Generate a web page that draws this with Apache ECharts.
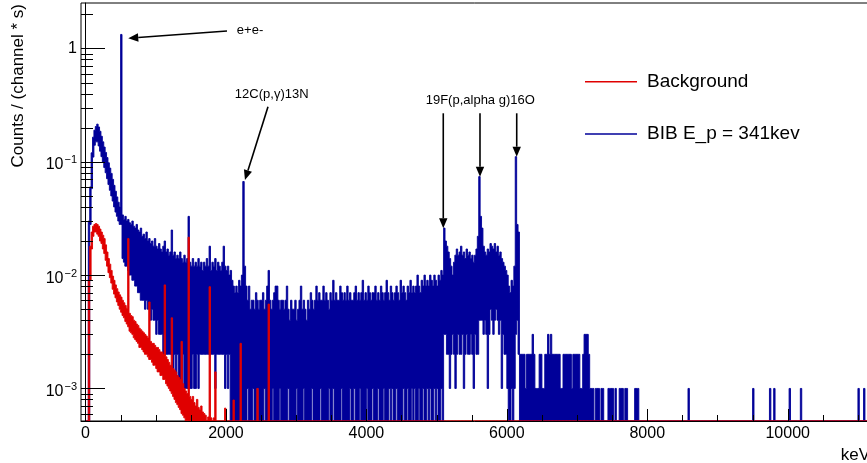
<!DOCTYPE html>
<html>
<head>
<meta charset="utf-8">
<script src="https://cdn.jsdelivr.net/npm/echarts@6/dist/echarts.min.js"></script>
<style>
  html, body { margin: 0; padding: 0; background: #fff; }
  #chart { width: 867px; height: 463px; }
</style>
</head>
<body>
<div id="chart"></div>
<script>
// Gamma spectra, 20 keV bins starting at 0 keV.
// Values are in units of 1e-3 counts / (channel * s); each bin keeps the
// lowest and highest level reached by the fine channels inside it.
const BIN_KEV = 20;
const RATE_UNIT = 1e-3;

// BIB target, E_p = 341 keV : upper level per bin
const blueHi = [
  0, 0, 30, 60, 120, 165, 190, 205, 215, 203,
  186, 168, 150, 135, 121, 109, 98, 88, 79, 70,
  62, 55, 49, 44, 40, 1330, 34, 31, 33, 30,
  31, 29, 28, 30, 27, 26, 28, 25, 24, 26,
  22, 23, 21, 24, 20, 21, 19, 20, 18, 21,
  18, 17, 19, 17, 16, 18, 20, 16, 17, 15,
  16, 25, 15, 16, 14, 15, 14, 16, 14, 13,
  15, 13, 14, 33, 13, 12, 14, 12, 13, 12,
  14, 12, 13, 11, 13, 12, 14, 12, 18, 11,
  13, 12, 14, 11, 13, 12, 11, 13, 18, 12,
  11, 12, 10, 11, 9, 8, 7, 8, 7, 9,
  8, 10, 67, 12, 8, 6, 8, 5, 6, 6,
  5, 7, 6, 5, 6, 6, 7, 5, 6, 8,
  11, 6, 5, 6, 7, 8, 8, 6, 5, 6,
  6, 5, 6, 8, 5, 4, 6, 5, 5, 6,
  4, 5, 6, 8, 5, 6, 5, 4, 6, 5,
  7, 6, 5, 6, 8, 6, 7, 6, 6, 8,
  6, 7, 6, 5, 7, 6, 9, 6, 7, 6,
  6, 8, 7, 6, 7, 6, 8, 6, 7, 6,
  6, 7, 8, 6, 7, 6, 7, 9, 6, 7,
  6, 8, 7, 6, 7, 7, 8, 6, 7, 6,
  8, 7, 6, 7, 9, 7, 6, 8, 7, 6,
  7, 8, 7, 6, 9, 7, 8, 7, 6, 8,
  7, 9, 7, 8, 7, 8, 10, 8, 7, 9,
  8, 10, 8, 9, 8, 10, 9, 8, 10, 9,
  8, 10, 9, 11, 10, 26, 20, 18, 16, 14,
  12, 10, 13, 15, 17, 15, 16, 18, 15, 16,
  14, 17, 15, 16, 14, 15, 13, 15, 17, 22,
  74, 33, 26, 18, 16, 15, 17, 16, 19, 18,
  17, 19, 16, 18, 15, 16, 14, 13, 12, 11,
  10, 8, 7, 9, 8, 12, 111, 28, 24, 2,
  2, 2, 2, 1, 2, 2, 2, 2, 3, 2,
  1, 1, 1, 2, 2, 1, 1, 2, 2, 3,
  2, 3, 2, 2, 2, 2, 2, 2, 1, 1,
  2, 2, 2, 2, 2, 2, 1, 2, 2, 2,
  2, 2, 1, 1, 2, 3, 3, 3, 2, 1,
  1, 1, 0, 1, 1, 1, 0, 1, 1, 0,
  0, 0, 1, 1, 1, 1, 0, 1, 0, 0,
  1, 1, 1, 0, 1, 1, 0, 0, 0, 0,
  0, 1, 1, 1, 0, 0, 0, 0, 0, 0,
  0, 0, 0, 0, 0, 0, 0, 0, 0, 0,
  0, 0, 0, 0, 0, 0, 0, 0, 0, 0,
  0, 0, 0, 0, 0, 0, 0, 0, 0, 1,
  0, 0, 0, 0, 0, 0, 0, 0, 0, 0,
  0, 0, 0, 0, 0, 0, 0, 0, 0, 0,
  0, 0, 0, 0, 0, 0, 0, 0, 0, 0,
  0, 0, 0, 0, 0, 0, 0, 0, 0, 0,
  0, 0, 0, 0, 0, 1, 0, 0, 0, 0,
  0, 0, 0, 0, 0, 0, 0, 1, 0, 0,
  1, 0, 0, 0, 0, 0, 0, 0, 0, 0,
  0, 1, 0, 0, 0, 0, 0, 0, 0, 1,
  0, 0, 0, 0, 0, 0, 0, 0, 0, 0,
  0, 0, 0, 0, 0, 0, 0, 0, 0, 0,
  0, 0, 0, 0, 0, 0, 0, 0, 0, 0,
  0, 0, 0, 0, 0, 0, 0, 0, 0, 0,
  1, 0, 0, 0, 1, 0, 0, 0
];

// BIB target : lower level per bin (bins after the last entry reach zero)
const blueLo = [
  0, 0, 0, 28, 58, 110, 140, 150, 150, 138,
  124, 111, 99, 89, 80, 71, 63, 56, 50, 45,
  40, 36, 33, 30, 28, 28, 14, 13, 12, 12,
  11, 10, 10, 9, 9, 8, 8, 7, 7, 6,
  6, 6, 5, 6, 5, 5, 4, 5, 4, 4,
  3, 4, 3, 3, 3, 2, 3, 2, 2, 2,
  2, 2, 1, 2, 1, 2, 1, 1, 1, 2,
  1, 1, 1, 1, 1, 1, 2, 1, 1, 2,
  1, 2, 2, 2, 2, 2, 2, 2, 2, 2,
  2, 2, 1, 2, 2, 2, 2, 2, 2, 1,
  2, 1, 2, 0, 0, 0, 0, 0, 0, 0,
  0, 0, 0, 0, 0, 1, 0, 0, 0, 1,
  0, 0, 1, 0, 0, 0, 0, 1, 0, 0,
  0, 0, 0, 1, 0, 0, 0, 0, 1, 0,
  0, 0, 0, 0, 1, 0, 0, 0, 0, 0,
  1, 0, 0, 0, 0, 1, 0, 0, 0, 0,
  0, 1, 0, 0, 0, 0, 0, 1, 0, 0,
  0, 0, 0, 1, 0, 0, 1, 0, 0, 0,
  0, 0, 1, 0, 0, 0, 0, 0, 1, 0,
  0, 1, 0, 0, 0, 1, 0, 0, 0, 0,
  1, 0, 0, 0, 1, 0, 0, 0, 1, 0,
  0, 0, 1, 0, 0, 0, 1, 0, 1, 0,
  0, 1, 0, 0, 0, 0, 1, 0, 0, 1,
  0, 0, 1, 0, 1, 0, 0, 1, 0, 0,
  1, 0, 0, 1, 0, 1, 0, 0, 1, 0,
  1, 0, 0, 1, 0, 3, 3, 2, 2, 1,
  2, 3, 2, 1, 2, 3, 2, 2, 3, 1,
  2, 3, 2, 2, 3, 2, 1, 3, 2, 2,
  4, 4, 4, 3, 4, 3, 1, 3, 5, 4,
  3, 4, 5, 4, 3, 4, 1, 3, 2, 2,
  1, 0, 0, 1, 0, 1, 3, 4, 2, 0
];

// Room background : upper level per bin (bins after the last entry are empty)
const redHi = [
  0, 0, 9, 18, 24, 27, 28, 28.5, 28, 27,
  25.5, 24, 22.5, 21, 18.5, 16, 14, 12.5, 11, 9.8,
  9, 8.2, 7.6, 7.1, 6.7, 6.4, 6, 5.7, 5.4, 5.1,
  21, 4.6, 4.4, 4.3, 4, 3.9, 3.7, 3.6, 3.4, 3.3,
  3.2, 3.1, 3, 2.9, 2.8, 5.8, 2.6, 2.5, 2.5, 2.4,
  2.3, 2.3, 2.2, 2.1, 2.1, 2, 8.2, 1.9, 1.8, 1.7,
  1.6, 4.2, 1.5, 1.45, 1.4, 1.3, 1.25, 1.2, 2.6, 1.1,
  1, 0.95, 0.9, 21.6, 0.85, 0.8, 0.85, 0.75, 0.7, 0.8,
  0.68, 0.65, 0.7, 0.62, 0.6, 0.58, 0, 0.56, 7.9, 0.55,
  0, 0.55, 1.4, 0, 0, 0, 0, 0, 0, 0.67,
  0, 0, 0, 0, 0, 0.79, 0, 0, 0, 0,
  2.5, 0, 0, 0, 0, 0, 0, 0, 0, 0,
  0, 0, 1.0, 0, 0, 0, 0, 0, 0, 0,
  5.55
];

// Room background : lower level per bin
const redLo = [
  0, 0, 0, 9, 17, 22, 24, 24, 23, 22,
  20, 19, 17, 15.5, 13.5, 12, 10.5, 9.5, 8.5, 7.5,
  6.8, 6.3, 5.8, 5.4, 5, 4.7, 4.4, 4.2, 3.9, 3.7,
  3.5, 3.2, 3.1, 3, 2.8, 2.7, 2.6, 2.5, 2.3, 2.3,
  2.2, 2.1, 2, 2, 1.9, 1.8, 1.8, 1.7, 1.6, 1.6,
  1.5, 1.4, 1.4, 1.3, 1.3, 1.2, 1.2, 1.1, 1.05, 1,
  0.95, 0.9, 0.85, 0.8, 0.75, 0.72, 0.68, 0.65, 0.6, 0.58,
  0.55, 0, 0.52, 0.5
];

// Axis ranges and tick positions
const xRange = [-64, 11172];
const yRange = [5.16e-4, 2.52];
const xTicks = [0, 500, 1000, 1500, 2000, 2500, 3000, 3500, 4000, 4500, 5000, 5500,
  6000, 6500, 7000, 7500, 8000, 8500, 9000, 9500, 10000, 10500, 11000];
const xMajorStep = 2000;
const yTicks = [6e-4, 7e-4, 8e-4, 9e-4,
  1e-3, 2e-3, 3e-3, 4e-3, 5e-3, 6e-3, 7e-3, 8e-3, 9e-3,
  1e-2, 2e-2, 3e-2, 4e-2, 5e-2, 6e-2, 7e-2, 8e-2, 9e-2,
  1e-1, 2e-1, 3e-1, 4e-1, 5e-1, 6e-1, 7e-1, 8e-1, 9e-1,
  1, 2];
const yMajor = [1e-3, 1e-2, 1e-1, 1];

// Line identifications: arrows [xFrom, yFrom, xTo, yTo] and their captions
const arrows = [
  [2015, 1.427, 609, 1.23],
  [2599, 0.3064, 2271, 0.0691],
  [5095, 0.268, 5095, 0.0259],
  [5618, 0.268, 5618, 0.0739],
  [6141, 0.268, 6141, 0.1109]
];
const notes = [
  { text: 'e+e-', x: 2343, y: 1.457 },
  { text: '12C(p,\u03b3)13N', x: 2652, y: 0.394 },
  { text: '19F(p,alpha g)16O', x: 5622, y: 0.351 }
];

const seriesNames = ['Background', 'BIB E_p = 341kev'];

// ---------------------------------------------------------------------------
const FONT = '"Liberation Sans", Arial, Helvetica, sans-serif';
const BLUE = '#000099';
const RED = '#e00000';
const N_BINS = blueHi.length;

// One outline per spectrum: along the upper levels from left to right, then
// back along the lower levels, so every bin is filled between its two levels.
function spectrumRenderer(hi, lo, color) {
  return function (params, api) {
    const cs = params.coordSys;
    const bottom = cs.y + cs.height;
    const upper = [], lower = [];
    for (let i = 0; i < N_BINS; i++) {
      const xa = api.coord([i * BIN_KEV, yRange[0]])[0];
      const xb = api.coord([(i + 1) * BIN_KEV, yRange[0]])[0];
      const h = (hi[i] || 0) * RATE_UNIT;
      const l = (lo[i] || 0) * RATE_UNIT;
      const yt = h > yRange[0] ? api.coord([i * BIN_KEV, h])[1] : bottom;
      const yb = l > yRange[0] ? api.coord([i * BIN_KEV, l])[1] : bottom;
      upper.push([xa, yt], [xb, yt]);
      lower.push([xa, yb], [xb, yb]);
    }
    const points = upper.concat(lower.reverse());
    return {
      type: 'polygon',
      shape: { points: points },
      style: { fill: color, stroke: color, lineWidth: 0.9, lineJoin: 'miter' }
    };
  };
}

function isMajorY(v) {
  return yMajor.some(function (m) { return Math.abs(v / m - 1) < 1e-6; });
}

const option = {
  animation: false,
  backgroundColor: '#ffffff',
  grid: {
    left: 81, top: 3, right: -3, bottom: 42,
    show: true, borderColor: '#000', borderWidth: 1,
    containLabel: false, outerBoundsMode: 'none'
  },
  xAxis: {
    type: 'value', min: xRange[0], max: xRange[1], splitNumber: 5,
    axisLine: { show: true, lineStyle: { color: '#000', width: 1 } },
    axisTick: { show: false },
    splitLine: { show: false },
    axisLabel: {
      showMinLabel: false, showMaxLabel: false, margin: 5,
      color: '#000', fontSize: 16, fontFamily: FONT,
      formatter: function (v) { return String(v); }
    }
  },
  yAxis: {
    type: 'log', logBase: 10, min: yRange[0], max: yRange[1],
    axisLine: { show: true, lineStyle: { color: '#000', width: 1 } },
    axisTick: { show: false },
    splitLine: { show: false },
    axisLabel: {
      showMinLabel: false, showMaxLabel: false, margin: 4,
      color: '#000', fontSize: 16, fontFamily: FONT,
      formatter: function (v) {
        const e = Math.round(Math.log10(v));
        return e === 0 ? '1' : '{b|10}{s|\u2212' + (-e) + '}';
      },
      rich: {
        b: { fontSize: 16, fontFamily: FONT, color: '#000', padding: [6, 0, 0, 0], verticalAlign: 'bottom' },
        s: { fontSize: 11, fontFamily: FONT, color: '#000', padding: [4, 0, 0, 1], verticalAlign: 'top' }
      }
    }
  },
  graphic: [
    {
      type: 'text', x: 18, y: 4, rotation: Math.PI / 2, silent: true,
      style: {
        text: 'Counts / (channel * s)', fill: '#000', font: '17px ' + FONT,
        align: 'right', verticalAlign: 'middle', textAlign: 'right', textVerticalAlign: 'middle'
      }
    },
    {
      type: 'text', x: 870, y: 455, silent: true,
      style: {
        text: 'keV', fill: '#000', font: '17px ' + FONT,
        align: 'right', verticalAlign: 'middle', textAlign: 'right', textVerticalAlign: 'middle'
      }
    },
    { type: 'rect', silent: true, shape: { x: 585, y: 81, width: 52, height: 1.4 }, style: { fill: RED } },
    {
      type: 'text', x: 647, y: 81.7, silent: true,
      style: { text: seriesNames[0], fill: '#000', font: '19px ' + FONT,
        align: 'left', verticalAlign: 'middle', textAlign: 'left', textVerticalAlign: 'middle' }
    },
    { type: 'rect', silent: true, shape: { x: 585, y: 133.3, width: 52, height: 1.4 }, style: { fill: BLUE } },
    {
      type: 'text', x: 647, y: 134, silent: true,
      style: { text: seriesNames[1], fill: '#000', font: '19px ' + FONT,
        align: 'left', verticalAlign: 'middle', textAlign: 'left', textVerticalAlign: 'middle' }
    }
  ],
  series: [
    {
      name: seriesNames[1], type: 'custom', coordinateSystem: 'cartesian2d',
      silent: true, clip: true, z: 2,
      encode: { x: 0, y: 1 },
      data: [[0, yRange[0]]],
      renderItem: spectrumRenderer(blueHi, blueLo, BLUE)
    },
    {
      name: seriesNames[0], type: 'custom', coordinateSystem: 'cartesian2d',
      silent: true, clip: true, z: 3,
      encode: { x: 0, y: 1 },
      data: [[0, yRange[0]]],
      renderItem: spectrumRenderer(redHi, redLo, RED)
    },
    {
      // tick marks on the energy axis, pointing into the frame
      type: 'custom', coordinateSystem: 'cartesian2d', silent: true, z: 5,
      encode: { x: 0, y: 1 },
      data: xTicks.map(function (v) { return [v, yRange[0]]; }),
      renderItem: function (params, api) {
        const p = api.coord([api.value(0), yRange[0]]);
        const len = api.value(0) % xMajorStep === 0 ? 12 : 6;
        const x = Math.round(p[0]) + 0.5;
        return { type: 'line', shape: { x1: x, y1: p[1], x2: x, y2: p[1] - len }, style: { stroke: '#000', lineWidth: 1 } };
      }
    },
    {
      // tick marks on the rate axis
      type: 'custom', coordinateSystem: 'cartesian2d', silent: true, z: 5,
      encode: { x: 0, y: 1 },
      data: yTicks.map(function (v) { return [xRange[0], v]; }),
      renderItem: function (params, api) {
        const v = api.value(1);
        const p = api.coord([xRange[0], v]);
        const len = isMajorY(v) ? 24 : 12;
        const y = Math.round(p[1]) + 0.5;
        return { type: 'line', shape: { x1: p[0], y1: y, x2: p[0] + len, y2: y }, style: { stroke: '#000', lineWidth: 1 } };
      }
    },
    {
      // arrows pointing at the identified lines
      type: 'custom', coordinateSystem: 'cartesian2d', silent: true, z: 6,
      encode: { x: [0, 2], y: [1, 3] },
      data: arrows,
      renderItem: function (params, api) {
        const p0 = api.coord([api.value(0), api.value(1)]);
        const p1 = api.coord([api.value(2), api.value(3)]);
        const dx = p1[0] - p0[0], dy = p1[1] - p0[1];
        const len = Math.sqrt(dx * dx + dy * dy);
        const ux = dx / len, uy = dy / len;
        const head = 10, half = 4.2;
        const bx = p1[0] - ux * head, by = p1[1] - uy * head;
        return {
          type: 'group',
          children: [
            { type: 'line', shape: { x1: p0[0], y1: p0[1], x2: bx, y2: by }, style: { stroke: '#000', lineWidth: 1.6 } },
            { type: 'polygon', shape: { points: [[p1[0], p1[1]], [bx - uy * half, by + ux * half], [bx + uy * half, by - ux * half]] }, style: { fill: '#000' } }
          ]
        };
      }
    },
    {
      // captions of the identified lines
      type: 'custom', coordinateSystem: 'cartesian2d', silent: true, z: 6,
      encode: { x: 0, y: 1 },
      data: notes.map(function (n) { return [n.x, n.y]; }),
      renderItem: function (params, api) {
        const p = api.coord([api.value(0), api.value(1)]);
        return {
          type: 'text', x: p[0], y: p[1],
          style: { text: notes[params.dataIndex].text, fill: '#000', font: '13px ' + FONT,
            align: 'center', verticalAlign: 'middle' }
        };
      }
    }
  ]
};

const chart = echarts.init(document.getElementById('chart'), null, { renderer: 'canvas' });
chart.setOption(option);
</script>
</body>
</html>
